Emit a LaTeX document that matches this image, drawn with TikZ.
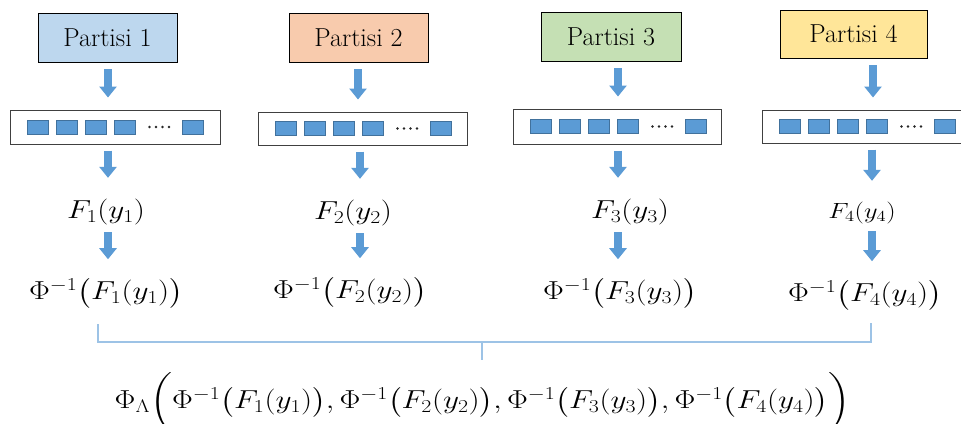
\RequirePackage{fix-cm}
\documentclass[tikz,border=0pt]{standalone}
\usepackage{amsmath}
\usepackage{fontspec}
\usetikzlibrary{arrows.meta,calc}
\definecolor{blu}{HTML}{5B9BD5}
\definecolor{sqline}{HTML}{41719C}
\definecolor{pa}{HTML}{BDD7EE}
\definecolor{pb}{HTML}{F8CBAD}
\definecolor{pc}{HTML}{C5E0B4}
\definecolor{pd}{HTML}{FFE699}
\definecolor{brk}{HTML}{9DC3E6}
\newcommand\mth[2][26]{\scalebox{1.2}[1]{\fontsize{#1}{#1}\selectfont$#2$}}
\newcommand\cells[1]{%
  \foreach \o [count=\k] in {28.5,57.5,86.5,115.5,183.5}
    \node[sq] (#1-\k) at ([xshift=\o]#1.west) {};
  \foreach \o in {140,146.5,153,159.5}
    \fill[black!85] ([xshift=\o]#1.west) circle (1.3);}
\begin{document}
\begin{tikzpicture}[x=1pt,y=-1pt,
  part/.style={draw=black, line width=0.9pt, minimum height=49, inner sep=0,
               font=\rmfamily\fontsize{26}{30}\selectfont},
  store/.style={draw=black!75, line width=1pt, fill=white, minimum width=210,
                minimum height=34, inner sep=0},
  sq/.style={draw=sqline, fill=blu, line width=0.8pt, minimum width=21,
             minimum height=14, inner sep=0},
  mathn/.style={inner sep=0},
  blk/.style={blu, line width=8, -{Triangle[width=17,length=11]}},
  arA/.style={blk, shorten <=7, shorten >=12},
  arB/.style={blk, shorten <=6, shorten >=21},
  arC/.style={blk, shorten <=7, shorten >=18},
  bline/.style={draw=brk, line width=1.6pt}]
\clip (0,0) rectangle (961,423);
\fill[white] (0,0) rectangle (961,423);

% partition boxes
\node[part, fill=pa, minimum width=139] (p1) at (107.5,37.5) {Partisi 1};
\node[part, fill=pb, minimum width=139] (p2) at (358.5,37.5) {Partisi 2};
\node[part, fill=pc, minimum width=140] (p3) at (611,36.5) {Partisi 3};
\node[part, fill=pd, minimum width=147, minimum height=48] (p4) at (853.5,34) {Partisi 4};

% storage boxes
\node[store] (s1) at (115,127) {};
\node[store, minimum width=209, minimum height=33] (s2) at (362.5,128.5) {};
\node[store, minimum width=208, minimum height=35] (s3) at (617,126.5) {};
\node[store, minimum height=33] (s4) at (867,126.5) {};
\cells{s1}\cells{s2}\cells{s3}\cells{s4}

% formulas
\node[mathn] (f1) at (106,212) {\mth{F_1(y_1)}};
\node[mathn] (f2) at (353,213) {\mth{F_2(y_2)}};
\node[mathn] (f3) at (630,212) {\mth{F_3(y_3)}};
\node[mathn] (f4) at (862,213) {\mth[22]{F_4(y_4)}};
\node[mathn] (g1) at (106,293) {\mth{\Phi^{-1}\bigl(F_1(y_1)\bigr)}};
\node[mathn] (g2) at (350,292) {\mth{\Phi^{-1}\bigl(F_2(y_2)\bigr)}};
\node[mathn] (g3) at (620,293) {\mth{\Phi^{-1}\bigl(F_3(y_3)\bigr)}};
\node[mathn] (g4) at (865,295) {\mth{\Phi^{-1}\bigl(F_4(y_4)\bigr)}};
\node[mathn] (tot) at (482.5,402) {\mth{\Phi_\Lambda\biggl(\Phi^{-1}\bigl(F_1(y_1)\bigr),\Phi^{-1}\bigl(F_2(y_2)\bigr),\Phi^{-1}\bigl(F_3(y_3)\bigr),\Phi^{-1}\bigl(F_4(y_4)\bigr)\biggr)}};

% arrow columns
\coordinate (c1) at (108,0);
\coordinate (c2) at (358,0);
\coordinate (c3) at (618,0);
\coordinate (c4) at (873,0);
\coordinate (d2) at (360,0);
\coordinate (d4) at (872,0);

\draw[arA] (c1 |- p1.south) -- (c1 |- s1.north);
\draw[arA] (c2 |- p2.south) -- (c2 |- s2.north);
\draw[arA] (c3 |- p3.south) -- (c3 |- s3.north);
\draw[arA] (c4 |- p4.south) -- (c4 |- s4.north);

\draw[arB] (c1 |- s1.south) -- (c1 |- f1.north);
\draw[arB] (d2 |- s2.south) -- (d2 |- f2.north);
\draw[arB] (c3 |- s3.south) -- (c3 |- f3.north);
\draw[arB] (d4 |- s4.south) -- (d4 |- f4.north);

\draw[arC] (c1 |- f1.south) -- (c1 |- g1.north);
\draw[arC] (d2 |- f2.south) -- (d2 |- g2.north);
\draw[arC] (c3 |- f3.south) -- (c3 |- g3.north);
\draw[arC] (d4 |- f4.south) -- (d4 |- g4.north);

% bracket
\coordinate (bl) at (98,324);
\coordinate (br) at (871,323);
\coordinate (bm) at (482,342);
\coordinate (bt) at (482,360);
\draw[bline] (bl) -- (bl |- bm) -- (br |- bm) -- (br);
\draw[bline] (bm) -- (bt);
\end{tikzpicture}
\end{document}
